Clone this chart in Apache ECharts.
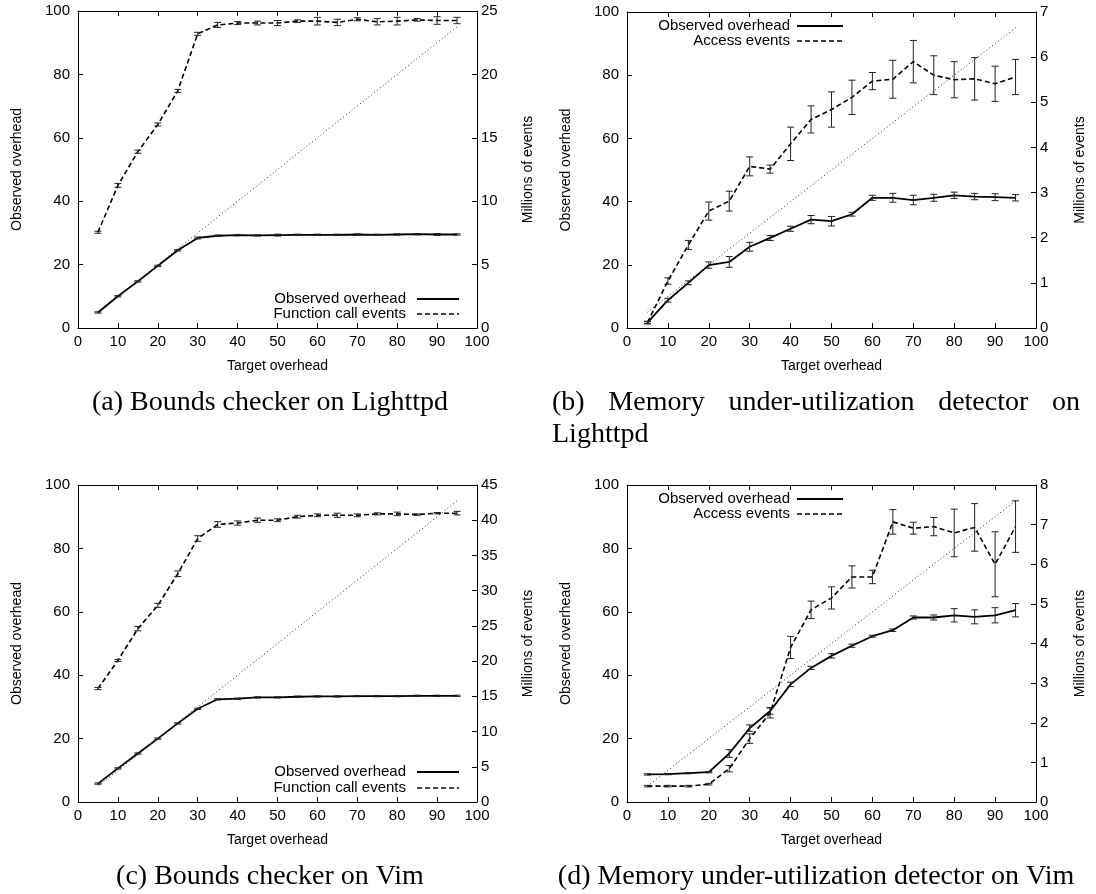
<!DOCTYPE html>
<html>
<head>
<meta charset="utf-8">
<script src="https://cdn.jsdelivr.net/npm/echarts@6/dist/echarts.min.js"></script>
<style>
  html, body { margin: 0; padding: 0; background: #fff; }
  #chart { width: 1096px; height: 894px; }
</style>
</head>
<body>
<div id="chart"></div>
<script>
// Target overhead settings shared by all four experiments
const targetOverhead = [5, 10, 15, 20, 25, 30, 35, 40, 45, 50, 55, 60, 65, 70, 75, 80, 85, 90, 95];
// Ideal response: observed overhead equals target overhead
const idealLine = [[5, 5], [95, 95]];

// (a) Bounds checker on Lighttpd
const boundsLighttpdOverhead    = [4.9, 10.0, 14.7, 19.6, 24.5, 28.4, 29.1, 29.3, 29.2, 29.3, 29.4, 29.4, 29.4, 29.5, 29.4, 29.5, 29.6, 29.5, 29.5];
const boundsLighttpdOverheadErr = [0.2, 0.2, 0.2, 0.2, 0.2, 0.3, 0.2, 0.2, 0.2, 0.3, 0.2, 0.2, 0.2, 0.2, 0.2, 0.2, 0.2, 0.3, 0.2];
const boundsLighttpdEvents      = [7.55, 11.25, 13.9, 16.05, 18.7, 23.2, 23.9, 24.05, 24.05, 24.05, 24.2, 24.2, 24.1, 24.35, 24.15, 24.2, 24.3, 24.25, 24.25];
const boundsLighttpdEventsErr   = [0.08, 0.15, 0.12, 0.12, 0.12, 0.12, 0.2, 0.12, 0.15, 0.2, 0.1, 0.3, 0.25, 0.12, 0.25, 0.3, 0.1, 0.3, 0.25];

// (b) Memory under-utilization detector on Lighttpd
const memLighttpdOverhead    = [1.7, 8.8, 14.3, 19.9, 20.9, 25.7, 28.5, 31.4, 34.3, 33.8, 36.0, 41.2, 41.2, 40.5, 41.2, 42.0, 41.6, 41.4, 41.2];
const memLighttpdOverheadErr = [0.3, 0.6, 0.6, 1.0, 1.7, 1.4, 0.8, 0.8, 1.3, 1.5, 0.6, 0.8, 1.4, 1.5, 1.1, 1.0, 1.0, 1.1, 1.0];
const memLighttpdEvents      = [0.12, 1.04, 1.84, 2.59, 2.81, 3.58, 3.52, 4.08, 4.62, 4.84, 5.11, 5.47, 5.51, 5.90, 5.60, 5.50, 5.52, 5.41, 5.56];
const memLighttpdEventsErr   = [0.03, 0.07, 0.1, 0.2, 0.22, 0.21, 0.09, 0.37, 0.3, 0.39, 0.38, 0.19, 0.42, 0.47, 0.43, 0.4, 0.47, 0.39, 0.39];

// (c) Bounds checker on Vim
const boundsVimOverhead    = [5.8, 10.6, 15.3, 20.0, 24.8, 29.4, 32.4, 32.6, 33.0, 33.0, 33.2, 33.3, 33.3, 33.4, 33.4, 33.4, 33.5, 33.5, 33.5];
const boundsVimOverheadErr = [0.2, 0.2, 0.2, 0.2, 0.2, 0.2, 0.2, 0.2, 0.2, 0.2, 0.2, 0.2, 0.2, 0.2, 0.2, 0.2, 0.2, 0.2, 0.2];
const boundsVimEvents      = [16.1, 20.1, 24.6, 27.9, 32.4, 37.4, 39.4, 39.6, 40.0, 40.0, 40.5, 40.7, 40.7, 40.7, 40.9, 40.9, 40.8, 41.0, 41.0];
const boundsVimEventsErr   = [0.15, 0.15, 0.3, 0.3, 0.4, 0.4, 0.4, 0.3, 0.3, 0.2, 0.2, 0.2, 0.3, 0.2, 0.15, 0.25, 0.1, 0.1, 0.25];

// (d) Memory under-utilization detector on Vim
const memVimOverhead    = [8.7, 8.8, 9.1, 9.4, 15.3, 23.3, 28.7, 37.1, 42.3, 46.1, 49.3, 52.3, 54.2, 58.2, 58.2, 58.9, 58.4, 58.9, 60.5];
const memVimOverheadErr = [0.2, 0.2, 0.2, 0.2, 1.2, 1.0, 1.0, 0.7, 0.5, 0.7, 0.5, 0.3, 0.4, 0.5, 0.8, 2.1, 2.2, 2.4, 2.1];
const memVimEvents      = [0.40, 0.40, 0.40, 0.45, 0.84, 1.60, 2.25, 3.90, 4.85, 5.15, 5.68, 5.68, 7.07, 6.91, 6.95, 6.79, 6.93, 6.00, 6.95];
const memVimEventsErr   = [0.02, 0.02, 0.02, 0.02, 0.08, 0.12, 0.13, 0.28, 0.22, 0.28, 0.28, 0.17, 0.31, 0.15, 0.23, 0.6, 0.6, 0.82, 0.65];

// Axis ranges and labels
const overheadAxis = { min: 0, max: 100, interval: 20 };
const eventsAxisMax = [25, 7, 45, 8];
const eventsAxisStep = [5, 1, 5, 1];
const overheadName = 'Observed overhead';
const eventsNames = ['Function call events', 'Access events', 'Function call events', 'Access events'];
const captions = [
  '(a) Bounds checker on Lighttpd',
  '(b) Memory under-utilization detector on Lighttpd',
  '(c) Bounds checker on Vim',
  '(d) Memory under-utilization detector on Vim'
];

const panelData = [
  [boundsLighttpdOverhead, boundsLighttpdOverheadErr, boundsLighttpdEvents, boundsLighttpdEventsErr],
  [memLighttpdOverhead, memLighttpdOverheadErr, memLighttpdEvents, memLighttpdEventsErr],
  [boundsVimOverhead, boundsVimOverheadErr, boundsVimEvents, boundsVimEventsErr],
  [memVimOverhead, memVimOverheadErr, memVimEvents, memVimEventsErr]
];

// Layout of each panel: plot box, right-axis title gap and in-plot key placement
const layout = [
  { left: 78,  top: 11,  width: 399, height: 317, rightGap: 44, keyRight: 406, keyX1: 417, keyX2: 459, keyY: [299, 314] },
  { left: 627, top: 12,  width: 409, height: 316, rightGap: 37, keyRight: 790, keyX1: 797, keyX2: 843, keyY: [26, 41] },
  { left: 78,  top: 485, width: 399, height: 317, rightGap: 44, keyRight: 406, keyX1: 417, keyX2: 459, keyY: [772, 788] },
  { left: 627, top: 485, width: 409, height: 317, rightGap: 37, keyRight: 790, keyX1: 797, keyX2: 843, keyY: [499, 514] }
];

const SANS = '"Liberation Sans", Arial, Helvetica, sans-serif';
const SERIF = '"Liberation Serif", "Times New Roman", serif';
const INK = '#000';

function pairs(xs, ys) { return xs.map((x, i) => [x, ys[i]]); }
function bars(xs, ys, es) { return xs.map((x, i) => [x, ys[i] - es[i], ys[i] + es[i]]); }

function renderErrorBar(params, api) {
  const x = api.value(0);
  const lo = api.coord([x, api.value(1)]);
  const hi = api.coord([x, api.value(2)]);
  const half = 3.5;
  const style = { stroke: '#222', lineWidth: 1 };
  return {
    type: 'group',
    children: [
      { type: 'line', shape: { x1: lo[0], y1: lo[1], x2: hi[0], y2: hi[1] }, style },
      { type: 'line', shape: { x1: lo[0] - half, y1: lo[1], x2: lo[0] + half, y2: lo[1] }, style },
      { type: 'line', shape: { x1: hi[0] - half, y1: hi[1], x2: hi[0] + half, y2: hi[1] }, style }
    ]
  };
}

const tickStyle = { inside: true, length: 5, lineStyle: { color: INK, width: 1 } };
const lineAxis = { onZero: false, lineStyle: { color: INK, width: 1 } };
const labelStyle = { color: INK, fontSize: 15, fontFamily: SANS };
const nameStyle = { color: INK, fontSize: 14, fontFamily: SANS };

const grids = [], xAxes = [], yAxes = [], series = [], graphics = [];

layout.forEach((g, i) => {
  grids.push({ left: g.left, top: g.top, width: g.width, height: g.height, containLabel: false });

  xAxes.push({
    gridIndex: i, type: 'value', min: 0, max: 100, interval: 10, position: 'bottom',
    axisLine: lineAxis, axisTick: tickStyle, splitLine: { show: false },
    axisLabel: Object.assign({ margin: 6 }, labelStyle),
    name: 'Target overhead', nameLocation: 'middle', nameGap: 31, nameTextStyle: nameStyle
  });
  xAxes.push({
    gridIndex: i, type: 'value', min: 0, max: 100, interval: 10, position: 'top',
    axisLine: lineAxis, axisTick: tickStyle, splitLine: { show: false },
    axisLabel: { show: false }
  });

  yAxes.push({
    gridIndex: i, type: 'value', min: overheadAxis.min, max: overheadAxis.max, interval: overheadAxis.interval,
    position: 'left', axisLine: lineAxis, axisTick: tickStyle, splitLine: { show: false },
    axisLabel: Object.assign({ margin: 8 }, labelStyle),
    name: overheadName, nameLocation: 'middle', nameRotate: 90, nameGap: 54, nameTextStyle: nameStyle
  });
  yAxes.push({
    gridIndex: i, type: 'value', min: 0, max: eventsAxisMax[i], interval: eventsAxisStep[i],
    position: 'right', axisLine: lineAxis, axisTick: tickStyle, splitLine: { show: false },
    axisLabel: Object.assign({ margin: 4 }, labelStyle),
    name: 'Millions of events', nameLocation: 'middle', nameRotate: 90, nameGap: g.rightGap, nameTextStyle: nameStyle
  });

  const [ov, ovErr, ev, evErr] = panelData[i];
  const xb = 2 * i, yl = 2 * i, yr = 2 * i + 1;

  series.push({
    type: 'line', xAxisIndex: xb, yAxisIndex: yl, data: idealLine, symbol: 'none', silent: true,
    lineStyle: { color: '#222', width: 1, type: [1, 2.6] }, z: 1
  });
  series.push({
    name: overheadName, type: 'line', xAxisIndex: xb, yAxisIndex: yl, data: pairs(targetOverhead, ov),
    symbol: 'none', lineStyle: { color: INK, width: 1.8 }, z: 3
  });
  series.push({
    name: eventsNames[i], type: 'line', xAxisIndex: xb, yAxisIndex: yr, data: pairs(targetOverhead, ev),
    symbol: 'none', lineStyle: { color: INK, width: 1.6, type: [5, 3] }, z: 3
  });
  series.push({
    type: 'custom', xAxisIndex: xb, yAxisIndex: yl, data: bars(targetOverhead, ov, ovErr),
    encode: { x: 0, y: [1, 2] }, renderItem: renderErrorBar, silent: true, z: 4
  });
  series.push({
    type: 'custom', xAxisIndex: xb, yAxisIndex: yr, data: bars(targetOverhead, ev, evErr),
    encode: { x: 0, y: [1, 2] }, renderItem: renderErrorBar, silent: true, z: 4
  });

  // In-plot key: text on the left, line sample on the right
  const keyRows = [{ text: overheadName, dash: null, width: 1.8 }, { text: eventsNames[i], dash: [5, 3], width: 1.6 }];
  keyRows.forEach((row, r) => {
    graphics.push({
      type: 'text', x: g.keyRight, y: g.keyY[r], z: 10,
      style: { text: row.text, fill: INK, fontSize: 15, fontFamily: SANS, align: 'right', verticalAlign: 'middle' }
    });
    graphics.push({
      type: 'line', z: 10,
      shape: { x1: g.keyX1, y1: g.keyY[r], x2: g.keyX2, y2: g.keyY[r] },
      style: { stroke: INK, lineWidth: row.width, lineDash: row.dash }
    });
  });
});

// Sub-figure captions (serif, below each panel)
const CAPTION_SIZE = 28;
const captionFont = CAPTION_SIZE + 'px ' + SERIF;
const measure = document.createElement('canvas').getContext('2d');
measure.font = captionFont;

function captionText(text, x, y, align) {
  return {
    type: 'text', x, y, z: 10,
    style: { text, fill: INK, fontSize: CAPTION_SIZE, fontFamily: SERIF, align, verticalAlign: 'middle' }
  };
}

// Justified first line followed by a left-aligned last line
function justifiedCaption(text, left, right, y, lineGap) {
  const words = text.split(' ');
  const out = [];
  let line = [];
  const lines = [];
  words.forEach(w => {
    const trial = line.concat(w).join(' ');
    if (line.length && measure.measureText(trial).width > right - left) { lines.push(line); line = [w]; }
    else line.push(w);
  });
  lines.push(line);
  lines.forEach((ws, li) => {
    const yy = y + li * lineGap;
    if (li === lines.length - 1 || ws.length < 2) {
      out.push(captionText(ws.join(' '), left, yy, 'left'));
      return;
    }
    const widths = ws.map(w => measure.measureText(w).width);
    const gap = (right - left - widths.reduce((a, b) => a + b, 0)) / (ws.length - 1);
    let cx = left;
    ws.forEach((w, k) => { out.push(captionText(w, cx, yy, 'left')); cx += widths[k] + gap; });
  });
  return out;
}

graphics.push(captionText(captions[0], 270, 403, 'center'));
graphics.push(...justifiedCaption(captions[1], 552, 1080, 403, 32));
graphics.push(captionText(captions[2], 270, 877, 'center'));
graphics.push(captionText(captions[3], 816, 877, 'center'));

const chart = echarts.init(document.getElementById('chart'), null, { renderer: 'canvas' });
chart.setOption({
  animation: false,
  backgroundColor: '#fff',
  grid: grids,
  xAxis: xAxes,
  yAxis: yAxes,
  series: series,
  graphic: graphics
});
</script>
</body>
</html>
